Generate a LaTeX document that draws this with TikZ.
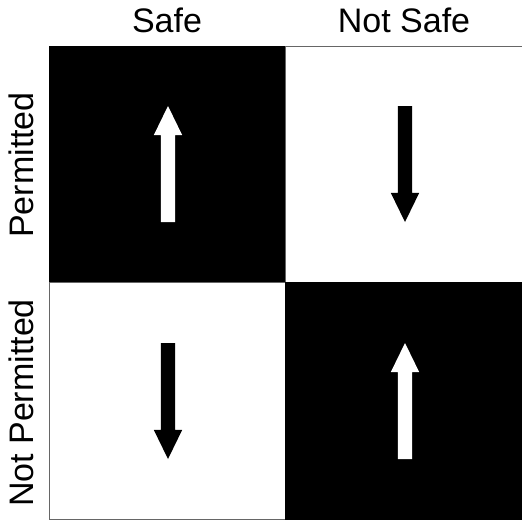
\documentclass[tikz,border=0pt]{standalone}
\usepackage{fontspec}
\setmainfont{Liberation Sans}
\usetikzlibrary{shapes.arrows}
\tikzset{cell/.style={rectangle, draw=black!60, line width=1pt, minimum width=237pt, minimum height=237pt, inner sep=0pt, anchor=north west},
    arrowbox/.style={single arrow, minimum height=116pt, inner sep=7pt, outer sep=0pt, single arrow head extend=7pt, single arrow tip angle=52, single arrow head indent=0pt, anchor=tail},
    label/.style={anchor=base, inner sep=0pt, font=\fontsize{34}{40}\selectfont}}

\begin{document}
\begin{tikzpicture}[x=1pt, y=-1pt]
        \useasboundingbox (0,0) rectangle (522,520);

        \node (safe) [label] at (167,32) {Safe};
        \node (notsafe) [label] at (404,32) {Not Safe};
        \node (perm) [label, rotate=90] at (33,165) {Permitted};
        \node (notperm) [label, rotate=90] at (33,403) {Not Permitted};

        \node (ps) [cell, fill=black, draw=black] at (48.5,45.5) {};
        \node (pn) [cell, fill=white] at (285,45.5) {};
        \node (ns) [cell, fill=white] at (48.5,282) {};
        \node (nn) [cell, fill=black, draw=black] at (285,282) {};

        \node (up1) [arrowbox, fill=white, rotate=90] at (168,222) {};
        \node (down1) [arrowbox, fill=black, rotate=-90] at (405,106) {};
        \node (down2) [arrowbox, fill=black, rotate=-90] at (168,343) {};
        \node (up2) [arrowbox, fill=white, rotate=90] at (405,459) {};

    \end{tikzpicture}
\end{document}
